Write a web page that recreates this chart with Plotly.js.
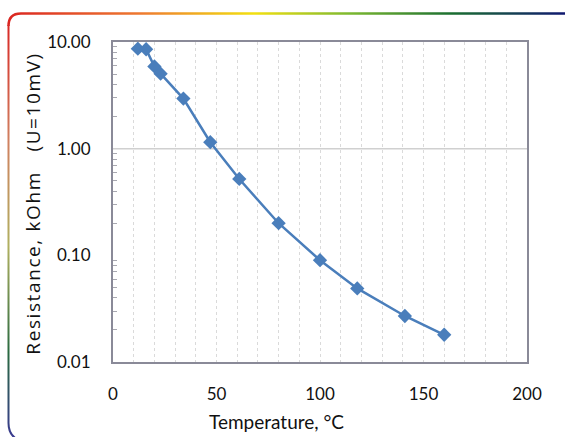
<!DOCTYPE html>
<html>
<head>
<meta charset="utf-8">
<script src="https://cdn.plot.ly/plotly-3.0.1.min.js"></script>
<style>
html,body{margin:0;padding:0;background:#fff;}
#wrap{position:relative;width:565px;height:437px;}
#chart{position:absolute;left:0;top:0;width:565px;height:437px;}
#frame{position:absolute;left:0;top:0;pointer-events:none;}
#chart g.annotation[data-index="1"] text{letter-spacing:1.6px;}
</style>
</head>
<body>
<div id="wrap">
<div id="chart"></div>
<svg id="frame" width="565" height="437">
<defs>
<linearGradient id="gTop" x1="0" y1="0" x2="565" y2="0" gradientUnits="userSpaceOnUse">
<stop offset="0" stop-color="#d92020"/>
<stop offset="0.25" stop-color="#ee7a30"/>
<stop offset="0.45" stop-color="#f2e010"/>
<stop offset="0.62" stop-color="#7bb830"/>
<stop offset="0.8" stop-color="#1a6e30"/>
<stop offset="1" stop-color="#101870"/>
</linearGradient>
<linearGradient id="gLeft" x1="0" y1="13" x2="0" y2="437" gradientUnits="userSpaceOnUse">
<stop offset="0" stop-color="#d92020"/>
<stop offset="0.3" stop-color="#d08060"/>
<stop offset="0.55" stop-color="#b0b060"/>
<stop offset="0.8" stop-color="#2a6a40"/>
<stop offset="1" stop-color="#3a3a90"/>
</linearGradient>
</defs>
<path d="M565,13.5 H21 Q8.5,13.5 8.5,26" fill="none" stroke="url(#gTop)" stroke-width="2.5"/>
<path d="M8.5,25 V423 Q8.5,436 19,440" fill="none" stroke="url(#gLeft)" stroke-width="2"/>
</svg>
</div>
<script>
var temperature = [12, 16, 20, 23, 34, 47, 61, 80, 100, 118, 141, 160];
var resistance = [8.65, 8.55, 5.9, 5.05, 2.95, 1.15, 0.52, 0.20, 0.09, 0.049, 0.027, 0.018];
var yTickVals = [0.01, 0.1, 1, 10];
var yTickText = ["0.01", "0.10", "1.00", "10.00"];
var yMinorTickVals = [0.02,0.03,0.04,0.05,0.06,0.07,0.08,0.09,0.2,0.3,0.4,0.5,0.6,0.7,0.8,0.9,2,3,4,5,6,7,8,9];
var xTickVals = [0, 50, 100, 150, 200];
var xTitle = 'Temperature, °C';
var yTitle = 'Resistance, kOhm&nbsp;&nbsp;&nbsp;(U=10mV)';

var trace = {
  x: temperature,
  y: resistance,
  type: 'scatter',
  mode: 'lines+markers',
  line: {color: '#4a7ebb', width: 2.5},
  marker: {symbol: 'diamond', size: 11, color: '#4a7ebb'},
  hoverinfo: 'skip'
};

var tickFont = {size: 17, family: 'Lato, sans-serif', color: '#111'};

var layout = {
  width: 565,
  height: 437,
  margin: {l: 113, r: 38, t: 42, b: 75},
  paper_bgcolor: '#ffffff',
  plot_bgcolor: '#ffffff',
  showlegend: false,
  font: {family: 'Lato, sans-serif', color: '#111'},
  xaxis: {
    range: [0, 200],
    tickvals: xTickVals,
    ticks: '',
    ticklabelstandoff: 16,
    tickfont: tickFont,
    showgrid: true,
    gridcolor: '#dadada',
    griddash: '3px,3px',
    gridwidth: 1,
    minor: {dtick: 10, showgrid: true, gridcolor: '#dadada', griddash: '3px,3px', gridwidth: 1, ticks: ''},
    showline: true,
    linecolor: '#8a8a98',
    linewidth: 2,
    mirror: true,
    zeroline: false
  },
  yaxis: {
    type: 'log',
    range: [-2, 1],
    tickvals: yTickVals,
    ticktext: yTickText,
    ticks: '',
    ticklabelstandoff: 17,
    tickfont: tickFont,
    showgrid: false,
    minor: {tickvals: yMinorTickVals, ticks: 'inside', ticklen: 4, tickcolor: '#a8a8b0', showgrid: false},
    showline: true,
    linecolor: '#8a8a98',
    linewidth: 2,
    mirror: true,
    zeroline: false
  },
  shapes: [
    {type: 'line', xref: 'paper', x0: 0, x1: 1, yref: 'y', y0: 1, y1: 1, line: {color: '#d0d0d0', width: 1.5}, layer: 'below'}
  ],
  annotations: [
    {text: xTitle, xref: 'paper', x: 0.396, yref: 'paper', y: -0.185, yanchor: 'middle', xanchor: 'center', showarrow: false,
     font: {size: 19, family: 'Lato, sans-serif', color: '#111'}},
    {text: yTitle, xref: 'paper', x: -0.193, yref: 'paper', y: 0.5, yshift: -2, xanchor: 'center', yanchor: 'middle', textangle: -90, showarrow: false,
     font: {size: 19, family: 'Open Sans, sans-serif', color: '#111'}}
  ]
};

Plotly.newPlot('chart', [trace], layout, {displayModeBar: false, staticPlot: true});
</script>
</body>
</html>
